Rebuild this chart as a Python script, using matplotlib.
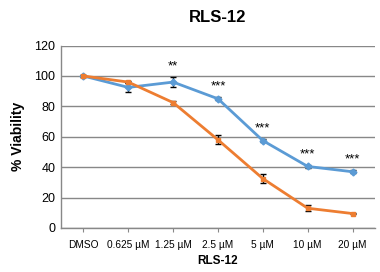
import matplotlib
matplotlib.use("Agg")
import matplotlib.pyplot as plt

plt.rcParams['font.family'] = ['Liberation Sans', 'DejaVu Sans']

labels = ['DMSO', '0.625 µM', '1.25 µM', '2.5 µM', '5 µM', '10 µM', '20 µM']
blue = [100, 92.5, 96, 85, 57.5, 40.5, 37]
blue_err = [0.5, 3, 3.5, 1, 1, 1, 1]
orange = [100, 96, 82.5, 58, 32.5, 13, 9.5]
orange_err = [0.5, 0.8, 1, 3, 3, 2, 0.5]
stars = ['', '', '**', '***', '***', '***', '***']

x = list(range(len(labels)))

fig = plt.figure(figsize=(3.8, 2.72), dpi=100)
ax = fig.add_axes([61/380, 1-228/272, 314/380, 182.4/272])

ax.errorbar(x, blue, yerr=blue_err, color='#5B9BD5', lw=2, marker='D', ms=3.5,
            ecolor='black', elinewidth=1, capsize=2.5, zorder=3)
ax.errorbar(x, orange, yerr=orange_err, color='#ED7D31', lw=2, marker='s', ms=3.5,
            ecolor='black', elinewidth=1, capsize=2.5, zorder=3)

for xi, yi, e, s in zip(x, blue, blue_err, stars):
    if s:
        ax.text(xi, yi + e + 3, s, ha='center', va='bottom', fontsize=9.5)

ax.set_xlim(-0.5, 6.5)
ax.set_ylim(0, 120)
ax.set_yticks(range(0, 121, 20))
ax.set_xticks(x)
ax.set_xticklabels(labels, fontsize=7.3)
ax.tick_params(axis='y', labelsize=9, length=0, pad=4)
ax.tick_params(axis='x', length=3, color='#888888', pad=6)
ax.grid(axis='y', color='#888888', lw=1)
ax.set_axisbelow(True)
for s in ['top', 'right']:
    ax.spines[s].set_visible(False)
for s in ['left', 'bottom']:
    ax.spines[s].set_color('#888888')
    ax.spines[s].set_linewidth(1)

ax.set_title('RLS-12', fontsize=12, fontweight='bold', pad=17)
ax.set_xlabel('RLS-12', fontsize=8.5, fontweight='bold', labelpad=3)
ax.set_ylabel('% Viability', fontsize=10, fontweight='bold', labelpad=7)

fig.savefig('out.png', dpi=100)
